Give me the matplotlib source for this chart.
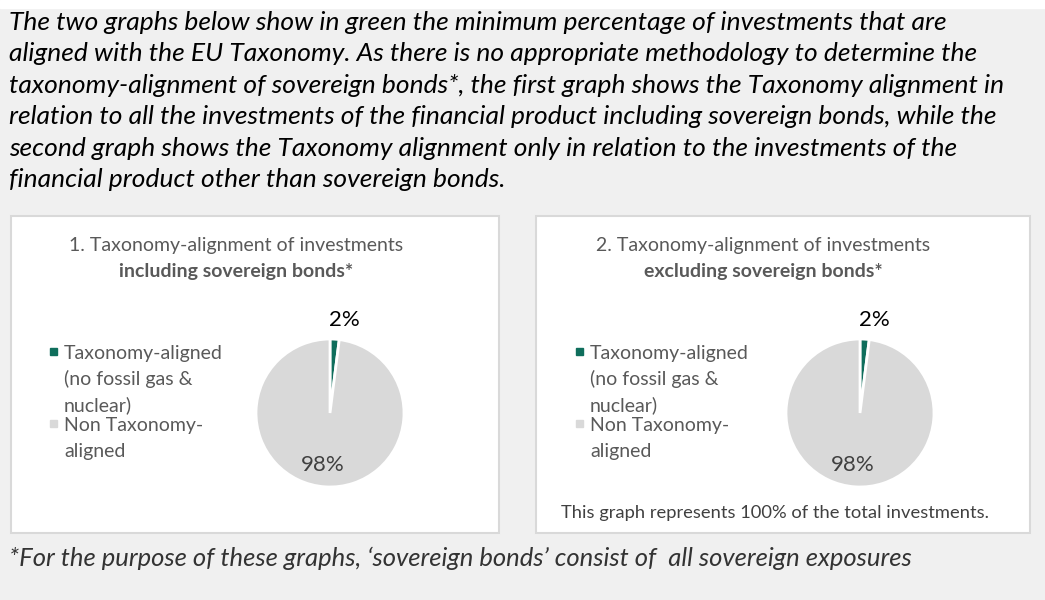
import matplotlib
matplotlib.use("Agg")
import matplotlib.pyplot as plt
from matplotlib.patches import Rectangle

# chart data
aligned_label = ["Taxonomy-aligned", "(no fossil gas &", "nuclear)"]
other_label = ["Non Taxonomy-", "aligned"]
incl_values = [2, 98]
excl_values = [2, 98]
chart_titles = ["1. Taxonomy-alignment of investments", "2. Taxonomy-alignment of investments"]
chart_subtitles = ["including sovereign bonds*", "excluding sovereign bonds*"]

intro = ["The two graphs below show in green the minimum percentage of investments that are",
         "aligned with the EU Taxonomy. As there is no appropriate methodology to determine the",
         "taxonomy-alignment of sovereign bonds*, the first graph shows the Taxonomy alignment in",
         "relation to all the investments of the financial product including sovereign bonds, while the",
         "second graph shows the Taxonomy alignment only in relation to the investments of the",
         "financial product other than sovereign bonds."]
footnote = "*For the purpose of these graphs, \u2018sovereign bonds\u2019 consist of  all sovereign exposures"
note2 = "This graph represents 100% of the total investments."

GREEN = "#0f6e5c"
GREY = "#d9d9d9"
TXT = "#595959"
W, H = 1045, 600

fig = plt.figure(figsize=(W / 100, H / 100), dpi=100)
fig.patch.set_facecolor("#f0f0f0")

# background axes in pixel coords (y down)
bg = fig.add_axes([0, 0, 1, 1])
bg.set_xlim(0, W)
bg.set_ylim(H, 0)
bg.axis("off")
bg.add_patch(Rectangle((0, 0), W, 8, color="white", zorder=0))

hfont = dict(family=["Lato", "DejaVu Sans"], style="italic")
for k, line in enumerate(intro):
    bg.text(9, 30 + 31.4 * k, line, fontsize=19.0, color="black", va="baseline", ha="left", **hfont)
bg.text(9, 566, footnote, fontsize=18.45, color="#333333", va="baseline", ha="left", **hfont)

cfont = ["Lato", "DejaVu Sans"]
panels = [(11, 216, 488, 317), (536, 216, 494, 317)]
pies = [(330, 413), (860, 413)]
title_x = [236, 763]
legend_x = [50, 576]
R = 74

for i, (values, (px, py, pw, ph), (cx, cy)) in enumerate(zip([incl_values, excl_values], panels, pies)):
    bg.add_patch(Rectangle((px, py), pw, ph, facecolor="white", edgecolor="#d9d9d9", lw=1.5, zorder=1))
    bg.text(title_x[i], 245, chart_titles[i], fontsize=14, color=TXT, ha="center", va="center",
            family=cfont, zorder=3)
    bg.text(title_x[i], 272, chart_subtitles[i], fontsize=14, color=TXT, ha="center", va="center",
            family=cfont, fontweight="bold", zorder=3)

    # legend
    lx = legend_x[i]
    bg.add_patch(Rectangle((lx, 348), 7, 7, color=GREEN, zorder=3))
    bg.add_patch(Rectangle((lx, 420), 7, 7, color=GREY, zorder=3))
    for k, line in enumerate(aligned_label):
        bg.text(lx + 14, 359 + 26 * k, line, fontsize=14, color=TXT, va="baseline", ha="left",
                family=cfont, zorder=3)
    for k, line in enumerate(other_label):
        bg.text(lx + 14, 431 + 26 * k, line, fontsize=14, color=TXT, va="baseline", ha="left",
                family=cfont, zorder=3)

    ax = fig.add_axes([(cx - R) / W, 1 - (cy + R) / H, 2 * R / W, 2 * R / H])
    wedges, _, autotexts = ax.pie(values, colors=[GREEN, GREY], startangle=90, counterclock=False,
                                  autopct="%d%%", wedgeprops=dict(edgecolor="white", linewidth=2),
                                  textprops=dict(family=cfont, fontsize=16))
    ax.set_xlim(-1, 1)
    ax.set_ylim(-1, 1)
    autotexts[0].set_position((0.2, 1.26))
    autotexts[0].set_color("black")
    autotexts[1].set_position((-0.1, -0.7))
    autotexts[1].set_color("#404040")

bg.text(561, 513, note2, fontsize=13.2, color="#404040", va="center", ha="left", family=cfont, zorder=3)

fig.savefig("out.png", dpi=100, facecolor=fig.get_facecolor())
